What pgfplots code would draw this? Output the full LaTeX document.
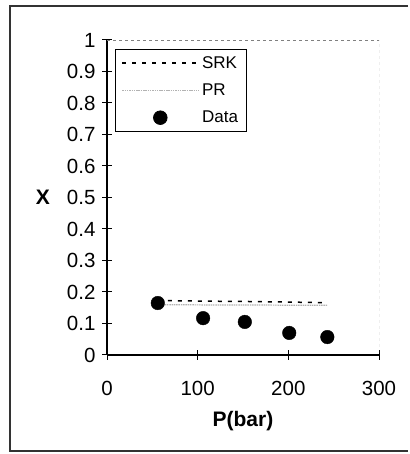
\documentclass[border=0pt]{standalone}
\usepackage{pgfplots}
\pgfplotsset{compat=1.18}
\usepackage{fontspec}
\setmainfont{Liberation Sans}
\begin{document}
\begin{tikzpicture}[x=1pt,y=1pt]
\useasboundingbox (0,0) rectangle (409,454);
\draw[line width=1.3pt, black!80] (408,448) -- (10,448) -- (10,3) -- (408,3);
\begin{axis}[
  at={(107pt,99pt)}, anchor=south west,
  scale only axis, width=272pt, height=315pt,
  xmin=0, xmax=300, ymin=0, ymax=1,
  axis lines=left, axis line style={-, line width=1.2pt, black},
  xtick={0,100,200,300},
  ytick={0,0.1,0.2,0.3,0.4,0.5,0.6,0.7,0.8,0.9,1},
  tick align=center, major tick length=10pt,
  tick style={black, line width=1pt},
  ticklabel style={font=\fontsize{20.5}{24}\selectfont},
  /pgf/number format/assume math mode=true,
  yticklabel style={/pgf/number format/fixed, /pgf/number format/precision=1, xshift=-3pt},
  xticklabel style={yshift=-18pt},
  xlabel={\textbf{P(bar)}}, ylabel={\textbf{X}},
  label style={font=\fontsize{21}{24}\selectfont},
  xlabel style={at={(axis description cs:0.5,0)}, anchor=center, yshift=-66pt},
  ylabel style={at={(axis description cs:0,0.5)}, anchor=center, rotate=-90, xshift=-64pt},
  legend style={at={(0.03,0.971)}, anchor=north west, draw=black, line width=0.8pt,
     font=\fontsize{17}{20}\selectfont, row sep=10pt, inner xsep=6pt, inner ysep=5pt},
  legend cell align=left,
  legend image code/.code={\draw[mark repeat=2,mark phase=2,#1] plot coordinates {(0pt,0pt) (38pt,0pt) (77pt,0pt)};},
]
\draw[gray, dashed, line width=0.8pt] (rel axis cs:0,1) -- (rel axis cs:1,1) -- (rel axis cs:1,0);
\addplot[black, dash pattern=on 4pt off 6pt, line width=1.5pt] coordinates {(56,0.173) (106,0.171) (152,0.170) (201,0.168) (243,0.166)};
\addlegendentry{SRK}
\addplot[gray!60, line width=1.2pt, dash pattern=on 1.5pt off 0.8pt] coordinates {(56,0.160) (106,0.159) (152,0.159) (201,0.158) (243,0.158)};
\addlegendentry{PR}
\addplot[only marks, mark=*, mark size=6.8pt, black] coordinates {(56,0.165) (106,0.117) (152,0.105) (201,0.070) (243,0.057)};
\addlegendentry{Data}
\end{axis}
\end{tikzpicture}
\end{document}
